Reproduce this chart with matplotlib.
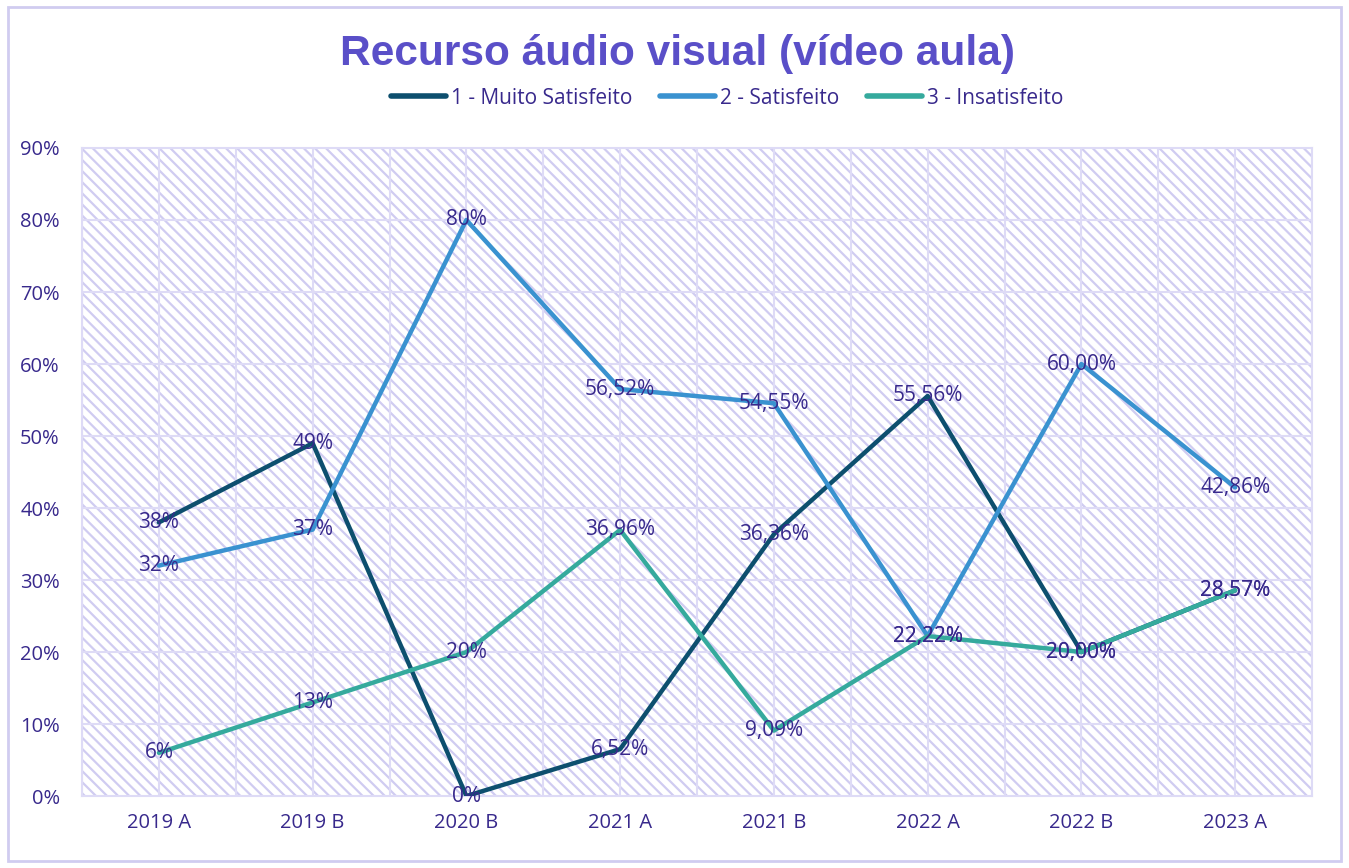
import matplotlib
matplotlib.use('Agg')
import matplotlib.pyplot as plt
from matplotlib.patches import Rectangle
import numpy as np

periodos = ['2019 A', '2019 B', '2020 B', '2021 A', '2021 B', '2022 A', '2022 B', '2023 A']
muito_satisfeito = [38, 49, 0, 6.52, 36.36, 55.56, 20.00, 28.57]
satisfeito = [32, 37, 80, 56.52, 54.55, 22.22, 60.00, 42.86]
insatisfeito = [6, 13, 20, 36.96, 9.09, 22.22, 20.00, 28.57]
rotulos_muito = ['38%', '49%', '0%', '6,52%', '36,36%', '55,56%', '20,00%', '28,57%']
rotulos_sat = ['32%', '37%', '80%', '56,52%', '54,55%', '22,22%', '60,00%', '42,86%']
rotulos_insat = ['6%', '13%', '20%', '36,96%', '9,09%', '22,22%', '20,00%', '28,57%']

series = [
    ('1 - Muito Satisfeito', muito_satisfeito, rotulos_muito, '#0d4f6e'),
    ('2 - Satisfeito', satisfeito, rotulos_sat, '#3a92d0'),
    ('3 - Insatisfeito', insatisfeito, rotulos_insat, '#35aa9d'),
]

plt.rcParams['font.family'] = ['Open Sans', 'DejaVu Sans']
plt.rcParams['hatch.linewidth'] = 1.6
plt.rcParams['hatch.color'] = '#d0ccf1'

txt_color = '#38298c'

fig = plt.figure(figsize=(13.49, 8.68), dpi=100)
ax = fig.add_axes([0.0608, 0.0829, 0.9118, 0.7466])

x = np.arange(len(periodos))
ax.set_xlim(-0.5, len(periodos) - 0.5)
ax.set_ylim(0, 90)

# fundo hachurado
ax.add_patch(Rectangle((0, 0), 1, 1, transform=ax.transAxes, facecolor='white',
                       edgecolor='#d0ccf1', hatch='\\\\\\', linewidth=0, zorder=0))

# grade
for yv in range(10, 90, 10):
    ax.axhline(yv, color='#dedbf6', lw=1.5, zorder=1)
for xv in np.arange(-0.5, len(periodos), 0.5):
    ax.axvline(xv, color='#dedbf6', lw=1.5, zorder=1)

for nome, vals, rots, cor in series:
    ax.plot(x, vals, color=cor, lw=3.2, label=nome, zorder=3, solid_capstyle='round')
for nome, vals, rots, cor in series:
    for xi, v, r in zip(x, vals, rots):
        ax.text(xi, v, r, ha='center', va='center', fontsize=15, color=txt_color, zorder=4)

ax.set_xticks(x)
ax.set_xticklabels(periodos)
ax.set_yticks(range(0, 91, 10))
ax.set_yticklabels([f'{v}%' for v in range(0, 91, 10)])
ax.tick_params(length=0, labelsize=14.5, colors=txt_color, pad=12)
ax.tick_params(axis='y', pad=16)
for s in ax.spines.values():
    s.set_color('#dedbf6')
    s.set_linewidth(1.5)

fig.text(0.502, 0.938, 'Recurso áudio visual (vídeo aula)', ha='center', va='center',
         fontsize=30.5, fontweight='bold', color='#5a4fc8', family=['Liberation Sans', 'DejaVu Sans'])

leg = fig.legend(loc='center', bbox_to_anchor=(0.539, 0.887), ncol=3, frameon=False,
                 fontsize=15, handlelength=2.65, handletextpad=0.25, columnspacing=1.3)
for t in leg.get_texts():
    t.set_color(txt_color)
for h in leg.get_lines():
    h.set_linewidth(4)

# borda externa
fig.add_artist(Rectangle((0.006, 0.008), 0.988, 0.984, transform=fig.transFigure,
                         fill=False, edgecolor='#d0ccf0', lw=2))

fig.savefig('out.png', dpi=100)
